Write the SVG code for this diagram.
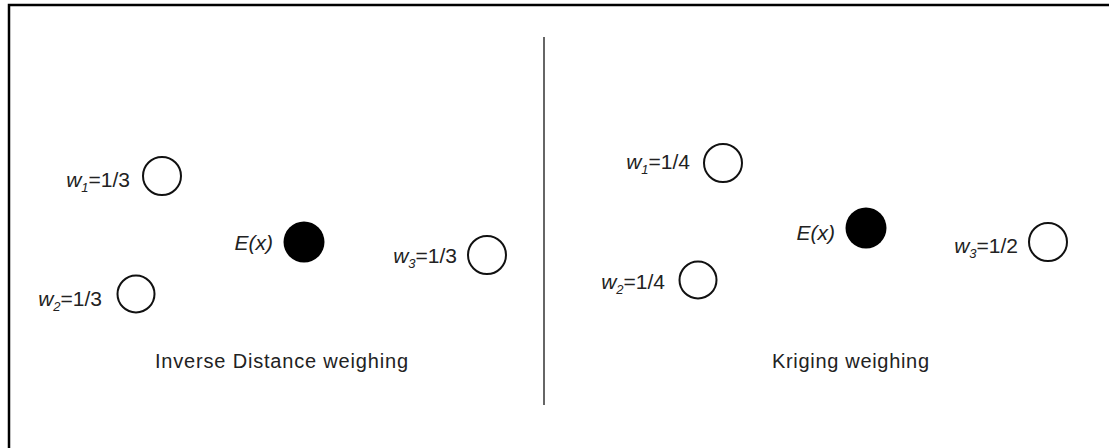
<svg xmlns="http://www.w3.org/2000/svg" width="1109" height="448" viewBox="0 0 1109 448">
<style>
.lbl{font-family:"Liberation Sans",Arial,sans-serif;font-size:21px;fill:#222;}
.it{font-style:italic;}
.sub{font-size:13px;}
.cap{font-family:"Liberation Sans",Arial,sans-serif;font-size:20px;fill:#222;}
.open{fill:#fff;stroke:#111;stroke-width:2;}
.full{fill:#000;}
</style>
<rect x="9" y="5" width="1120" height="460" fill="#fff" stroke="#000" stroke-width="2.5"/>
<g id="connectors">
<line x1="544" y1="37" x2="544" y2="405" stroke="#333" stroke-width="1.5"/>
</g>
<g id="L_w1">
<circle class="open" cx="162" cy="176" r="19"/>
<text class="lbl" x="130" y="187" text-anchor="end"><tspan class="it">w</tspan><tspan class="sub it" dy="5">1</tspan><tspan dy="-5">=1/3</tspan></text>
</g>
<g id="L_w2">
<circle class="open" cx="136" cy="294" r="18.5"/>
<text class="lbl" x="102" y="306" text-anchor="end"><tspan class="it">w</tspan><tspan class="sub it" dy="5">2</tspan><tspan dy="-5">=1/3</tspan></text>
</g>
<g id="L_Ex">
<circle class="full" cx="304" cy="242" r="20.5"/>
<text class="lbl it" x="273" y="250" text-anchor="end">E(x)</text>
</g>
<g id="L_w3">
<circle class="open" cx="487" cy="255" r="19"/>
<text class="lbl" x="457" y="263" text-anchor="end"><tspan class="it">w</tspan><tspan class="sub it" dy="5">3</tspan><tspan dy="-5">=1/3</tspan></text>
</g>
<g id="L_title">
<text class="cap" x="155" y="368" textLength="253" lengthAdjust="spacing">Inverse Distance weighing</text>
</g>
<g id="R_w1">
<circle class="open" cx="723" cy="163" r="19"/>
<text class="lbl" x="690" y="169" text-anchor="end"><tspan class="it">w</tspan><tspan class="sub it" dy="5">1</tspan><tspan dy="-5">=1/4</tspan></text>
</g>
<g id="R_w2">
<circle class="open" cx="698" cy="280" r="18.5"/>
<text class="lbl" x="665" y="289" text-anchor="end"><tspan class="it">w</tspan><tspan class="sub it" dy="5">2</tspan><tspan dy="-5">=1/4</tspan></text>
</g>
<g id="R_Ex">
<circle class="full" cx="866" cy="228" r="20.5"/>
<text class="lbl it" x="835" y="240" text-anchor="end">E(x)</text>
</g>
<g id="R_w3">
<circle class="open" cx="1048" cy="242" r="19"/>
<text class="lbl" x="1018" y="253" text-anchor="end"><tspan class="it">w</tspan><tspan class="sub it" dy="5">3</tspan><tspan dy="-5">=1/2</tspan></text>
</g>
<g id="R_title">
<text class="cap" x="772" y="368" textLength="157" lengthAdjust="spacing">Kriging weighing</text>
</g>
</svg>
